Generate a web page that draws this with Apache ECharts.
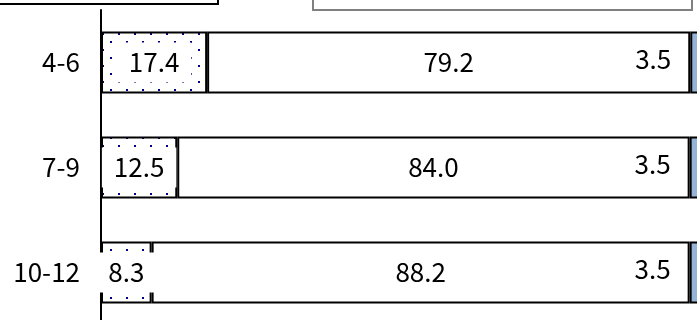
<!DOCTYPE html>
<html>
<head>
<meta charset="utf-8">
<script src="https://cdn.jsdelivr.net/npm/echarts@6/dist/echarts.min.js"></script>
<style>
html,body{margin:0;padding:0;background:#fff;}
#chart{width:697px;height:320px;}
</style>
</head>
<body>
<div id="chart"></div>
<script>
// ---- data ----
var categories = ['4-6', '7-9', '10-12'];
var seriesA = [17.4, 12.5, 8.3];   // dotted segment
var seriesB = [79.2, 84.0, 88.2];  // white segment
var seriesC = [3.5, 3.5, 3.5];     // blue segment

// dotted pattern
var pc = document.createElement('canvas');
pc.width = 16; pc.height = 16;
var pctx = pc.getContext('2d');
pctx.fillStyle = '#ffffff';
pctx.fillRect(0, 0, 16, 16);
pctx.fillStyle = '#000080';
pctx.fillRect(6, 1, 2, 2);
pctx.fillRect(14, 9, 2, 2);

var FONT = '"Noto Sans CJK JP", "Liberation Sans", sans-serif';
var FS = 26;
var fmt = function (p) { return Number(p.value).toFixed(1); };

var chart = echarts.init(document.getElementById('chart'), null, {renderer: 'canvas'});
chart.setOption({
  animation: false,
  backgroundColor: '#ffffff',
  grid: {left: 101, top: 10, width: 610, height: 315, containLabel: false, outerBoundsMode: 'none'},
  xAxis: {type: 'value', min: 0, max: 100, show: false},
  yAxis: {
    type: 'category', data: categories, inverse: true,
    axisLine: {show: true, lineStyle: {color: '#000', width: 2}},
    axisTick: {show: false},
    splitLine: {show: false},
    axisLabel: {color: '#000', fontSize: FS, fontFamily: FONT, margin: 21}
  },
  series: [
    {
      type: 'bar', stack: 'total', data: seriesA, barWidth: 62,
      itemStyle: {color: {image: pc, repeat: 'repeat'}, borderColor: '#000', borderWidth: 2},
      label: {show: true, position: 'inside', formatter: fmt, color: '#000', fontSize: FS,
              fontFamily: FONT, backgroundColor: '#fff', padding: [7, 12]}
    },
    {
      type: 'bar', stack: 'total', data: seriesB, barWidth: 62,
      itemStyle: {color: '#fff', borderColor: '#000', borderWidth: 2},
      label: {show: true, position: 'inside', formatter: fmt, color: '#000', fontSize: FS,
              fontFamily: FONT}
    },
    {
      type: 'bar', stack: 'total', data: seriesC, barWidth: 62,
      itemStyle: {color: '#95B3D7', borderColor: '#000', borderWidth: 2},
      label: {show: true, position: 'left', distance: 19, formatter: fmt, color: '#000', fontSize: FS,
              fontFamily: FONT, offset: [0, -3]}
    }
  ],
  graphic: [
    {type: 'rect', shape: {x: -5, y: -40, width: 223, height: 44},
     style: {fill: '#fff', stroke: '#000', lineWidth: 2}},
    {type: 'rect', shape: {x: 313, y: -30, width: 379, height: 40},
     style: {fill: '#fff', stroke: '#808080', lineWidth: 2}}
  ]
});
</script>
</body>
</html>
